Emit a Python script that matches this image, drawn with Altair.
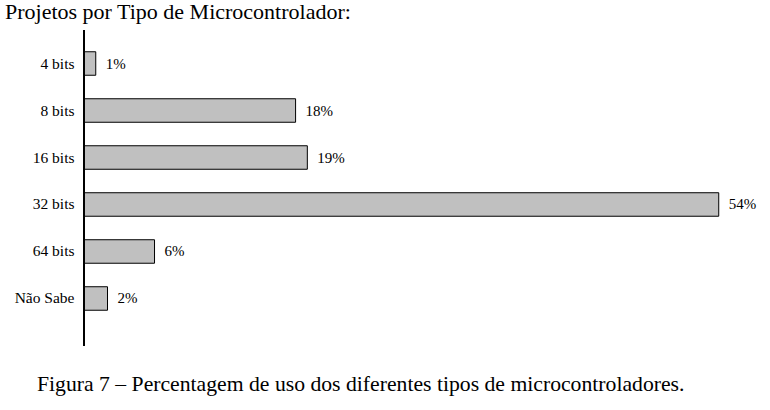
import altair as alt
import pandas as pd

categories = ["4 bits", "8 bits", "16 bits", "32 bits", "64 bits", "Não Sabe"]
values = [1, 18, 19, 54, 6, 2]
labels = ["1%", "18%", "19%", "54%", "6%", "2%"]
title_text = "Projetos por Tipo de Microcontrolador:"
caption_text = "Figura 7 – Percentagem de uso dos diferentes tipos de microcontroladores."

df = pd.DataFrame({"cat": categories, "val": values, "lab": labels})
FONT = "Liberation Serif"

y = alt.Y("cat:N", sort=categories,
          scale=alt.Scale(paddingInner=0.5, paddingOuter=0.463),
          axis=alt.Axis(title=None, ticks=False, domain=False,
                        labelFont=FONT, labelFontSize=15.5, labelColor="black",
                        labelPadding=10, grid=False))
x = alt.X("val:Q", scale=alt.Scale(domain=[0, 57], nice=False), axis=None)

base = alt.Chart(df)
bars = base.mark_bar(fill="#c0c0c0", stroke="black", strokeWidth=1).encode(x=x, y=y)
text = base.mark_text(align="left", dx=10, font=FONT, fontSize=15, color="black").encode(
    x=x, y=y, text="lab:N")
axis_line = alt.Chart(alt.Data(values=[{"a": 0}])).mark_rule(color="black", strokeWidth=2).encode(
    x=alt.value(0), y=alt.value(0), y2=alt.value(316))
caption = alt.Chart(alt.Data(values=[{"t": caption_text}])).mark_text(
    align="left", baseline="alphabetic", font=FONT, fontSize=21.7, color="black"
).encode(x=alt.value(-47), y=alt.value(361), text="t:N")

chart = alt.layer(bars, text, axis_line, caption).properties(
    width=670, height=302,
    autosize=alt.AutoSizeParams(type="none"),
    padding={"left": 84, "top": 30, "right": 16, "bottom": 78},
    view=alt.ViewBackground(strokeOpacity=0, strokeWidth=0),
    title=alt.TitleParams(title_text, anchor="start", frame="group", dx=-79, offset=5,
                          font=FONT, fontSize=22, fontWeight="normal", color="black"),
).configure_view(strokeOpacity=0, strokeWidth=0).configure(background="white")

chart.save("out.html", embed_options={"renderer": "svg", "actions": False})
